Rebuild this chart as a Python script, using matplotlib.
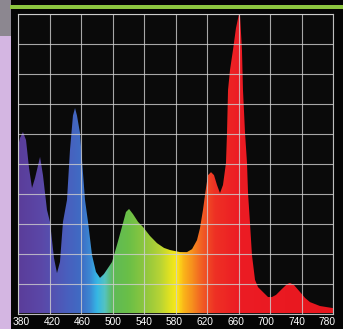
import numpy as np
import matplotlib
matplotlib.use("Agg")
import matplotlib.pyplot as plt
from matplotlib.colors import LinearSegmentedColormap
from matplotlib.patches import Rectangle

# Spectral power distribution of the lamp (relative intensity, %)
wavelength = [380, 382.5, 386.3, 390.2, 394, 397.8, 401.6, 408, 411.7, 416.8,
              420.6, 425.7, 429.5, 433.3, 437.1, 442.2, 446, 449.8, 452.4, 454.9,
              458.7, 465.1, 468.9, 474, 479, 484.1, 489.2, 494.3, 499.4, 505.7,
              512, 517.1, 521, 526, 532.4, 538.7, 547.6, 556.5, 565.4, 573,
              585.7, 594.6, 601, 607.3, 611.1, 614.9, 618.7, 621.3, 625.1, 628.9,
              632.7, 636.5, 640.3, 644.1, 645.4, 646.7, 649.2, 653, 656.8, 660.6,
              661.9, 664.4, 665.7, 668.3, 670.8, 672.1, 674.6, 677.1, 681, 684.8,
              689.8, 697.5, 702.5, 707.6, 715.2, 721.6, 725.4, 730.5, 738.1, 744.5,
              750.8, 763.5, 780]
intensity = [55.6, 58.6, 60.6, 57.9, 48.6, 41.9, 45.2, 52.3, 46.2, 34.6,
             30.6, 18.5, 13.5, 17.2, 30.6, 37.9, 54.6, 66.1, 68.6, 66.1,
             60.3, 37.9, 30.6, 19.5, 13.9, 11.9, 13.2, 15.2, 17.2, 22.9,
             28.9, 33.9, 34.9, 33.2, 30.6, 28.9, 25.9, 23.5, 21.9, 21.2,
             20.5, 20.5, 21.5, 24.5, 28.5, 34.6, 41.9, 46.2, 47.2, 46.2,
             42.9, 40.2, 42.9, 50.3, 60.3, 74.6, 81.3, 88.0, 95.3, 100.0,
             99.7, 88.0, 74.6, 60.3, 50.3, 40.2, 30.2, 19.5, 11.2, 8.8,
             7.5, 5.5, 5.5, 6.2, 8.2, 9.8, 10.2, 9.5, 7.2, 5.2,
             3.8, 2.5, 1.8]

tick_wavelengths = [380, 420, 460, 500, 540, 580, 620, 660, 700, 740, 780]
tick_labels = [str(t) for t in tick_wavelengths]

# Visible-spectrum colour ramp (wavelength -> colour)
ramp_nm = [380, 410, 440, 460, 470, 480, 490, 500, 520, 540, 560, 575, 582,
           590, 600, 615, 630, 660, 780]
ramp_col = ["#5a3d9a", "#5b48a8", "#4a5ebd", "#3f6cc4", "#3b86d2", "#35b7e5",
            "#55c3c0", "#5fba58", "#6abf47", "#8cc63f", "#b6d335", "#e8e41e",
            "#fbe91a", "#fbb619", "#f7941d", "#f15a24", "#ee3124", "#ec1c24",
            "#e8161e"]
lo, hi = 380.0, 780.0
cmap = LinearSegmentedColormap.from_list(
    "spectrum", [((w - lo) / (hi - lo), c) for w, c in zip(ramp_nm, ramp_col)])

W, H = 343, 329
fig = plt.figure(figsize=(W / 100, H / 100), dpi=100, facecolor="#050505")

# frame decorations: lavender strip on the left, green rule on top
fig.patches.append(Rectangle((0, 0), 11 / W, 1, transform=fig.transFigure,
                             facecolor="#d4b6e2", edgecolor="none", zorder=0))
fig.patches.append(Rectangle((0, 1 - 36 / H), 11 / W, 36 / H, transform=fig.transFigure,
                             facecolor="#8c8790", edgecolor="none", zorder=0))
fig.patches.append(Rectangle((10 / W, 1 - 8.5 / H), 1 - 10 / W, 3.5 / H,
                             transform=fig.transFigure, facecolor="#8cc63f",
                             edgecolor="none", zorder=1))

ax = fig.add_axes([18 / W, (H - 313.5) / H, 315 / W, 299.5 / H])
ax.set_facecolor("#0a0a0a")
ax.set_xlim(lo, hi)
ax.set_ylim(0, 100)

# spectrum area filled with the wavelength colour ramp
area = ax.fill_between(wavelength, 0, intensity, facecolor="none", edgecolor="none")
grad = np.linspace(0, 1, 800).reshape(1, -1)
img = ax.imshow(grad, extent=[lo, hi, 0, 100], aspect="auto", cmap=cmap,
                origin="lower", zorder=1, interpolation="bilinear")
img.set_clip_path(area.get_paths()[0], transform=ax.transData)

# grid
ax.set_xticks(tick_wavelengths)
ax.set_yticks(np.arange(0, 101, 10))
ax.grid(True, color="#cfcfcf", linewidth=0.8, alpha=0.8, zorder=3)
ax.set_axisbelow(False)
for s in ax.spines.values():
    s.set_color("#bdbdbd")
    s.set_linewidth(0.8)
ax.tick_params(length=0, labelbottom=False, labelleft=False)

# wavelength labels under the axis
for i, lab in enumerate(tick_labels):
    xpos = 384 + i * 38.9
    ax.text(xpos, -2.9, lab, transform=ax.transData, ha="center", va="center",
            color="white", fontsize=7.3, family="Liberation Sans", clip_on=False)

fig.savefig("out.png", dpi=100, facecolor=fig.get_facecolor())
